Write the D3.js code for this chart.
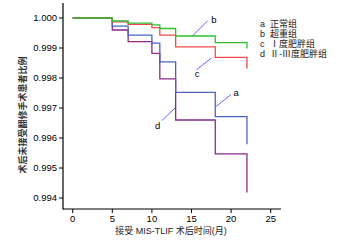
<!DOCTYPE html>
<html>
<head>
<meta charset="utf-8">
<script src="https://cdn.jsdelivr.net/npm/d3@7"></script>
<style>
  body { margin: 0; background: #fff; }
  text { font-family: "Liberation Sans", Arial, "Noto Sans CJK SC", sans-serif; }
  text.cjk { font-family: "Liberation Sans", "Noto Sans CJK SC", sans-serif; }
</style>
</head>
<body>
<svg width="350" height="241"></svg>
<script>
// step times (months) and survival values for each group
const times = [0, 5, 7, 10, 11, 13, 18, 22];
const groupA = [1.0, 0.99973, 0.99943, 0.99916, 0.99854, 0.99752, 0.99671, 0.99579];
const groupB = [1.0, 0.9999, 0.99983, 0.99977, 0.99965, 0.9994, 0.99918, 0.99898];
const groupC = [1.0, 0.99987, 0.99979, 0.99968, 0.99943, 0.99904, 0.99869, 0.99832];
const groupD = [1.0, 0.9996, 0.99921, 0.99882, 0.99797, 0.9966, 0.99547, 0.99418];

const xTicks = [0, 5, 10, 15, 20, 25];
const yTicks = [0.994, 0.995, 0.996, 0.997, 0.998, 0.999, 1.0];

const legendKeys = ['a', 'b', 'c', 'd'];
const legendLabels = ['正常组', '超重组', 'Ⅰ度肥胖组', 'Ⅱ-Ⅲ度肥胖组'];

const series = [
  {key: 'd', values: groupD, color: '#8b2a8b'},
  {key: 'a', values: groupA, color: '#4a64c4'},
  {key: 'c', values: groupC, color: '#f24a4a'},
  {key: 'b', values: groupB, color: '#2fbf2f'}
];

// annotation leader lines: [t1, v1, t2, v2], label position
const notes = [
  {lab: 'b', p: [15.15, 0.99941, 17.05, 0.99991], tp: [17.5, 0.99992]},
  {lab: 'c', p: [17.5, 0.99866, 15.6, 0.99827], tp: [15.4, 0.99813]},
  {lab: 'a', p: [18.05, 0.99704, 20.0, 0.99745], tp: [20.3, 0.99751]},
  {lab: 'd', p: [13.0, 0.99702, 11.25, 0.99658], tp: [10.4, 0.99641]}
];

const svg = d3.select('svg');
const x = d3.scaleLinear().domain([0, 25]).range([72.7, 270.7]);
const y = d3.scaleLinear().domain([0.994, 1.0]).range([198, 18]);

// axes
const xAxis = svg.append('g').attr('transform', 'translate(0,209)');
xAxis.append('line').attr('x1', 63).attr('x2', 281).attr('y1', 0).attr('y2', 0)
  .attr('stroke', '#000').attr('stroke-width', 1.2);
xAxis.selectAll('g.t').data(xTicks).join('g').attr('class', 't')
  .each(function (d) {
    const g = d3.select(this);
    g.append('line').attr('x1', x(d)).attr('x2', x(d)).attr('y1', 0).attr('y2', 4)
      .attr('stroke', '#000');
    g.append('text').attr('x', x(d)).attr('y', 13).attr('text-anchor', 'middle')
      .attr('font-size', 9.5).text(d);
  });

const yAxis = svg.append('g').attr('transform', 'translate(63,0)');
yAxis.append('line').attr('x1', 0).attr('x2', 0).attr('y1', 3).attr('y2', 209.5)
  .attr('stroke', '#000').attr('stroke-width', 1.2);
yAxis.selectAll('g.t').data(yTicks).join('g').attr('class', 't')
  .each(function (d) {
    const g = d3.select(this);
    g.append('line').attr('x1', -4).attr('x2', 0).attr('y1', y(d)).attr('y2', y(d))
      .attr('stroke', '#000');
    g.append('text').attr('x', -6).attr('y', y(d) + 3.3).attr('text-anchor', 'end')
      .attr('font-size', 9.5).text(d3.format('.3f')(d));
  });

// axis titles
svg.append('text').attr('class', 'cjk').attr('x', 171).attr('y', 234)
  .attr('text-anchor', 'middle').attr('font-size', 9).attr('fill', '#222')
  .text('接受 MIS-TLIF 术后时间(月)');
svg.append('text').attr('class', 'cjk').attr('transform', 'translate(26,115) rotate(-90)')
  .attr('text-anchor', 'middle').attr('font-size', 9).attr('font-weight', 'bold')
  .attr('fill', '#333').text('术后未接受翻修手术患者比例');

// step curves
const line = d3.line().x(d => x(d[0])).y(d => y(d[1])).curve(d3.curveStepAfter);
svg.selectAll('path.km').data(series).join('path').attr('class', 'km')
  .attr('d', s => line(times.map((t, i) => [t, s.values[i]])))
  .attr('fill', 'none').attr('stroke', s => s.color).attr('stroke-width', 1.3);

// annotations
svg.selectAll('line.note').data(notes).join('line').attr('class', 'note')
  .attr('x1', d => x(d.p[0])).attr('y1', d => y(d.p[1]))
  .attr('x2', d => x(d.p[2])).attr('y2', d => y(d.p[3]))
  .attr('stroke', '#3b3bff').attr('stroke-width', 0.8);
svg.selectAll('text.note').data(notes).join('text').attr('class', 'note')
  .attr('x', d => x(d.tp[0])).attr('y', d => y(d.tp[1]) + 3)
  .attr('font-size', 9.5).text(d => d.lab);

// legend
const leg = svg.selectAll('g.leg').data(legendKeys).join('g').attr('class', 'leg')
  .attr('transform', (d, i) => `translate(260,${26.5 + i * 10.3})`);
leg.append('text').attr('font-size', 9).attr('fill', '#222').text(d => d);
leg.append('text').attr('class', 'cjk').attr('x', 10).attr('font-size', 9)
  .attr('fill', '#222').text((d, i) => legendLabels[i]);
</script>
</body>
</html>
